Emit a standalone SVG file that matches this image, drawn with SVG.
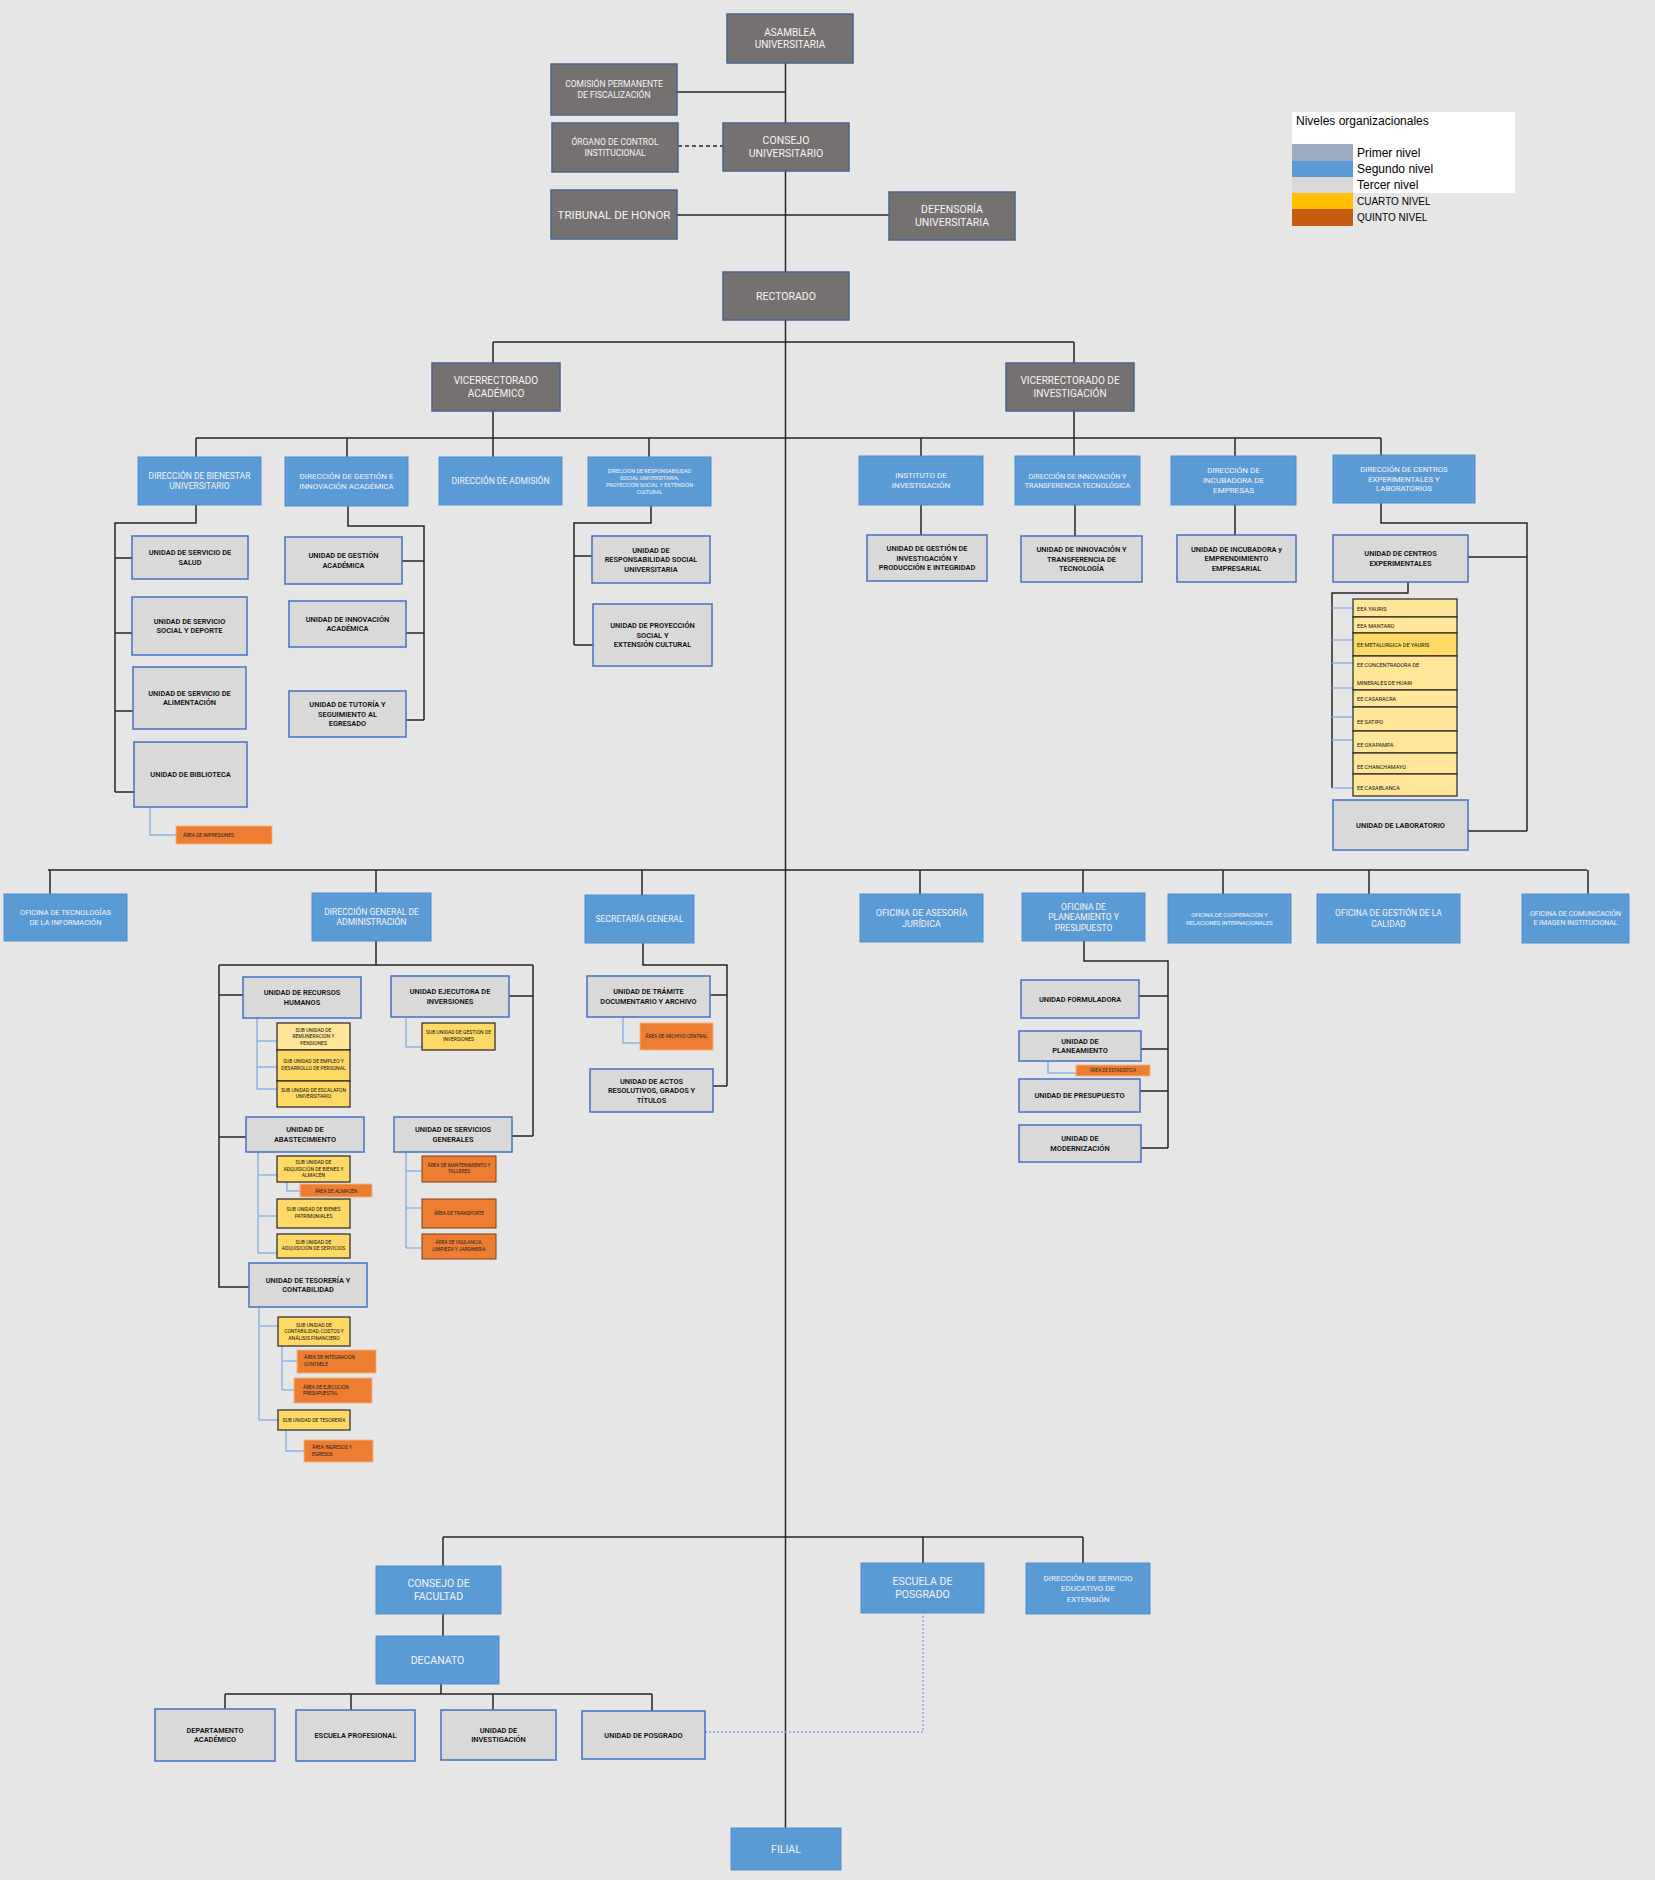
<svg xmlns="http://www.w3.org/2000/svg" width="1655" height="1880" viewBox="0 0 1655 1880">
<style>
text{font-family:"Liberation Sans Narrow","Roboto","Liberation Sans",sans-serif;text-anchor:middle}
.l1{fill:#767171;stroke:#4a6491;stroke-width:1.5}
.l2{fill:#5b9bd5;stroke:#4e8fcc;stroke-width:1}
.l3{fill:#d9d9d9;stroke:#4472c4;stroke-width:1.5}
.l4{fill:#ffd966;stroke:#262626;stroke-width:1.2}
.l4b{fill:#ffe699;stroke:#262626;stroke-width:1.2}
.l5{fill:#ed7d31;stroke:#f4b183;stroke-width:1}
.c{stroke:#262626;stroke-width:1.5;fill:none}
.cb{stroke:#8eb4e3;stroke-width:1.5;fill:none}
.dash{stroke:#262626;stroke-width:1.5;fill:none;stroke-dasharray:4 3}
.dot{stroke:#7fa7d8;stroke-width:1.5;fill:none;stroke-dasharray:2 2}
.tw{fill:#f4f4f4}
.t1{font-size:10.5px}
.t2{font-size:8.5px}
.t3{font-size:7.4px;font-weight:600;fill:#111}
.t4{font-size:5px;fill:#111}
.t5{font-size:4.8px;fill:#222}
.ts{font-size:5.5px;fill:#111;text-anchor:start}
.lg{font-family:"Liberation Sans",Arial,sans-serif;font-size:12px;text-anchor:start;fill:#000}
.lg2{font-family:"Liberation Sans Narrow","Liberation Sans",sans-serif;font-size:10px;text-anchor:start;fill:#000}
</style>
<rect x="0" y="0" width="1655" height="1880" fill="#e7e6e6"/>

<g id="connectors">
<path class="c" d="M785.5 63V1828"/>
<path class="c" d="M677 92H785.5"/>
<path class="dash" d="M678 146H723"/>
<path class="c" d="M677 215H889"/>
<path class="c" d="M493 342H1074M493 342V363M1074 342V363"/>
<path class="c" d="M493 411V457M1074 411V456"/>
<path class="c" d="M196 438H1381M196 438V457M347 438V457M649 438V457M921 438V456M1235 438V456M1381 438V455"/>
<path class="c" d="M196 505V523H115V792M115 558H132M115 633H132M115 711H133M115 792H134"/>
<path class="c" d="M348 506V526H424V720M402 561H424M406 633H424M406 720H424"/>
<path class="c" d="M651 506V523H574V645M574 556H592M574 645H593"/>
<path class="c" d="M921 505V535M1075 505V536M1235 505V535"/>
<path class="c" d="M1381 503V523H1527V831M1468 557H1527M1468 831H1527"/>
<path class="c" d="M1408 582V593H1332V788"/>
<path class="cb" d="M1332 608H1353M1332 640H1353M1332 663H1353M1332 688H1353M1332 717H1353M1332 740H1353M1332 788H1353"/>
<path class="cb" d="M150 807V835H176"/>
<path class="c" d="M48 870H1587M50 870V894M376 870V893M642 870V895M920 870V894M1083 870V893M1223 870V894M1369 870V894M1588 870V894"/>
<path class="c" d="M376 941V965M219 965H533M219 965V1287H249M219 995H243M219 1137H246M533 965V1136M509 996H533M512 1136H533"/>
<path class="cb" d="M257 1018V1089M257 1041H277M257 1067H277M257 1089H277"/>
<path class="cb" d="M406 1017V1047H422"/>
<path class="cb" d="M258 1152V1253M258 1175H277M258 1216H277M258 1253H277M287 1182V1191H300"/>
<path class="cb" d="M406 1152V1248M406 1171H422M406 1208H422M406 1248H422"/>
<path class="cb" d="M259 1307V1420M259 1326H278M259 1420H278M282 1346V1390M282 1361H297M282 1390H294M286 1430V1451H304"/>
<path class="c" d="M643 943V965H727V1086M710 995H727M713 1086H727"/>
<path class="cb" d="M623 1017V1043H640"/>
<path class="c" d="M1084 941V961H1168V1148M1139 996H1168M1141 1049H1168M1140 1091H1168M1141 1148H1168"/>
<path class="cb" d="M1048 1061V1073H1076"/>
<path class="c" d="M443 1537H1083M443 1537V1566M923 1537V1563M1083 1537V1563M443 1614V1636"/>
<path class="c" d="M441 1684V1694M225 1694H652M225 1694V1709M351 1694V1710M493 1694V1710M652 1694V1711"/>
<path class="dot" d="M705 1732H923V1613"/>
</g>

<g id="legend">
<rect x="1292" y="112" width="223" height="81" fill="#ffffff"/>
<rect x="1292" y="144" width="61" height="17" fill="#9cabc2"/>
<rect x="1292" y="161" width="61" height="16" fill="#5b9bd5"/>
<rect x="1292" y="177" width="61" height="16" fill="#d9d9d9"/>
<rect x="1292" y="193" width="61" height="16" fill="#ffc000"/>
<rect x="1292" y="209" width="61" height="17" fill="#c55a11"/>
<text class="lg" x="1296" y="125">Niveles organizacionales</text>
<text class="lg" x="1357" y="157">Primer nivel</text>
<text class="lg" x="1357" y="173">Segundo nivel</text>
<text class="lg" x="1357" y="189">Tercer nivel</text>
<text class="lg2" x="1357" y="205">CUARTO NIVEL</text>
<text class="lg2" x="1357" y="221">QUINTO NIVEL</text>
</g>

<g id="asamblea"><rect class="l1" x="727" y="14" width="126" height="49"/><text class="tw" style="font-size:10px" x="790"><tspan x="790" y="36">ASAMBLEA</tspan><tspan x="790" y="48">UNIVERSITARIA</tspan></text></g>
<g id="comision"><rect class="l1" x="551" y="64" width="126" height="51"/><text class="tw" style="font-size:8.5px"><tspan x="614" y="87.2">COMISIÓN PERMANENTE</tspan><tspan x="614" y="97.7">DE FISCALIZACIÓN</tspan></text></g>
<g id="organo"><rect class="l1" x="552" y="123" width="126" height="49"/><text class="tw" style="font-size:8.5px"><tspan x="615" y="145.2">ÓRGANO DE CONTROL</tspan><tspan x="615" y="155.7">INSTITUCIONAL</tspan></text></g>
<g id="consejo"><rect class="l1" x="723" y="123" width="126" height="48"/><text class="tw t1"><tspan x="786" y="144.2">CONSEJO</tspan><tspan x="786" y="157.2">UNIVERSITARIO</tspan></text></g>
<g id="tribunal"><rect class="l1" x="551" y="190" width="126" height="49"/><text class="tw" style="font-size:11.5px" x="614" y="218.5">TRIBUNAL DE HONOR</text></g>
<g id="defensoria"><rect class="l1" x="889" y="192" width="126" height="48"/><text class="tw t1"><tspan x="952" y="213.2">DEFENSORÍA</tspan><tspan x="952" y="226.2">UNIVERSITARIA</tspan></text></g>
<g id="rectorado"><rect class="l1" x="723" y="272" width="126" height="48"/><text class="tw t1" x="786" y="299.7">RECTORADO</text></g>
<g id="vr-academico"><rect class="l1" x="432" y="363" width="128" height="48"/><text class="tw" style="font-size:10px"><tspan x="496" y="384.2">VICERRECTORADO</tspan><tspan x="496" y="396.7">ACADÉMICO</tspan></text></g>
<g id="vr-investigacion"><rect class="l1" x="1006" y="363" width="128" height="48"/><text class="tw" style="font-size:10px"><tspan x="1070" y="384.2">VICERRECTORADO DE</tspan><tspan x="1070" y="396.7">INVESTIGACIÓN</tspan></text></g>

<g id="dir-bienestar"><rect class="l2" x="138" y="457" width="123" height="48"/><text class="tw t2"><tspan x="199.5" y="478.8">DIRECCIÓN DE BIENESTAR</tspan><tspan x="199.5" y="489.3">UNIVERSITARIO</tspan></text></g>
<g id="dir-gestion"><rect class="l2" x="285" y="457" width="123" height="49"/><text class="tw" style="font-size:8px"><tspan x="346.5" y="479.3">DIRECCIÓN DE GESTIÓN E</tspan><tspan x="346.5" y="489.3">INNOVACIÓN ACADÉMICA</tspan></text></g>
<g id="dir-admision"><rect class="l2" x="439" y="457" width="123" height="48"/><text class="tw t2" x="500.5" y="484">DIRECCIÓN DE ADMISIÓN</text></g>
<g id="dir-rsu"><rect class="l2" x="588" y="457" width="123" height="49"/><text class="tw" style="font-size:5.4px"><tspan x="649.5" y="473.1">DIRECCIÓN DE RESPONSABILIDAD</tspan><tspan x="649.5" y="479.9">SOCIAL UNIVERSITARIA,</tspan><tspan x="649.5" y="486.7">PROYECCIÓN SOCIAL Y EXTENSIÓN</tspan><tspan x="649.5" y="493.5">CULTURAL</tspan></text></g>
<g id="instituto"><rect class="l2" x="859" y="456" width="124" height="49"/><text class="tw" style="font-size:8px"><tspan x="921" y="478.3">INSTITUTO DE</tspan><tspan x="921" y="488.3">INVESTIGACIÓN</tspan></text></g>
<g id="dir-innovacion"><rect class="l2" x="1015" y="456" width="125" height="49"/><text class="tw" style="font-size:7.2px"><tspan x="1077.5" y="478.5">DIRECCIÓN DE INNOVACIÓN Y</tspan><tspan x="1077.5" y="487.5">TRANSFERENCIA TECNOLÓGICA</tspan></text></g>
<g id="dir-incubadora"><rect class="l2" x="1171" y="456" width="125" height="49"/><text class="tw" style="font-size:8px"><tspan x="1233.5" y="473.3">DIRECCIÓN DE</tspan><tspan x="1233.5" y="483.3">INCUBADORA DE</tspan><tspan x="1233.5" y="493.3">EMPRESAS</tspan></text></g>
<g id="dir-centros"><rect class="l2" x="1333" y="455" width="142" height="48"/><text class="tw" style="font-size:7.8px"><tspan x="1404" y="472.1">DIRECCIÓN DE CENTROS</tspan><tspan x="1404" y="481.6">EXPERIMENTALES Y</tspan><tspan x="1404" y="491.1">LABORATORIOS</tspan></text></g>

<g id="u-salud"><rect class="l3" x="132" y="536" width="116" height="43"/><text class="t3"><tspan x="190" y="555.4">UNIDAD DE SERVICIO DE</tspan><tspan x="190" y="564.9">SALUD</tspan></text></g>
<g id="u-social"><rect class="l3" x="132" y="597" width="115" height="58"/><text class="t3"><tspan x="189.5" y="623.9">UNIDAD DE SERVICIO</tspan><tspan x="189.5" y="633.4">SOCIAL Y DEPORTE</tspan></text></g>
<g id="u-alimentacion"><rect class="l3" x="133" y="667" width="113" height="62"/><text class="t3"><tspan x="189.5" y="695.9">UNIDAD DE SERVICIO DE</tspan><tspan x="189.5" y="705.4">ALIMENTACIÓN</tspan></text></g>
<g id="u-biblioteca"><rect class="l3" x="134" y="742" width="113" height="65"/><text class="t3" x="190.5" y="777.1">UNIDAD DE BIBLIOTECA</text></g>
<g id="a-impresiones"><rect class="l5" x="176" y="826" width="96" height="18"/><text class="t5" style="text-anchor:start" x="183" y="837">ÁREA DE IMPRESIONES</text></g>
<g id="u-gestion-acad"><rect class="l3" x="285" y="537" width="117" height="47"/><text class="t3"><tspan x="343.5" y="558.4">UNIDAD DE GESTIÓN</tspan><tspan x="343.5" y="567.9">ACADÉMICA</tspan></text></g>
<g id="u-innovacion-acad"><rect class="l3" x="289" y="601" width="117" height="46"/><text class="t3"><tspan x="347.5" y="621.9">UNIDAD DE INNOVACIÓN</tspan><tspan x="347.5" y="631.4">ACADÉMICA</tspan></text></g>
<g id="u-tutoria"><rect class="l3" x="289" y="691" width="117" height="46"/><text class="t3"><tspan x="347.5" y="707.1">UNIDAD DE TUTORÍA Y</tspan><tspan x="347.5" y="716.6">SEGUIMIENTO AL</tspan><tspan x="347.5" y="726.1">EGRESADO</tspan></text></g>
<g id="u-rsu"><rect class="l3" x="592" y="536" width="118" height="47"/><text class="t3"><tspan x="651" y="552.6">UNIDAD DE</tspan><tspan x="651" y="562.1">RESPONSABILIDAD SOCIAL</tspan><tspan x="651" y="571.6">UNIVERSITARIA</tspan></text></g>
<g id="u-proyeccion"><rect class="l3" x="593" y="604" width="119" height="62"/><text class="t3"><tspan x="652.5" y="628.1">UNIDAD DE PROYECCIÓN</tspan><tspan x="652.5" y="637.6">SOCIAL Y</tspan><tspan x="652.5" y="647.1">EXTENSIÓN CULTURAL</tspan></text></g>
<g id="u-gestion-inv"><rect class="l3" x="867" y="535" width="120" height="46"/><text class="t3"><tspan x="927" y="551.1">UNIDAD DE GESTIÓN DE</tspan><tspan x="927" y="560.6">INVESTIGACIÓN Y</tspan><tspan x="927" y="570.1">PRODUCCIÓN E INTEGRIDAD</tspan></text></g>
<g id="u-innov-transf"><rect class="l3" x="1021" y="536" width="121" height="46"/><text class="t3"><tspan x="1081.5" y="552.1">UNIDAD DE INNOVACIÓN Y</tspan><tspan x="1081.5" y="561.6">TRANSFERENCIA DE</tspan><tspan x="1081.5" y="571.1">TECNOLOGÍA</tspan></text></g>
<g id="u-incubadora"><rect class="l3" x="1177" y="535" width="119" height="47"/><text class="t3"><tspan x="1236.5" y="551.6">UNIDAD DE INCUBADORA y</tspan><tspan x="1236.5" y="561.1">EMPRENDIMIENTO</tspan><tspan x="1236.5" y="570.6">EMPRESARIAL</tspan></text></g>
<g id="u-centros-exp"><rect class="l3" x="1333" y="535" width="135" height="47"/><text class="t3"><tspan x="1400.5" y="556.4">UNIDAD DE CENTROS</tspan><tspan x="1400.5" y="565.9">EXPERIMENTALES</tspan></text></g>
<g id="estaciones">
<rect class="l4b" x="1353" y="599" width="104" height="18"/><text class="ts" x="1357" y="610.5">EEA YAURIS</text>
<rect class="l4b" x="1353" y="617" width="104" height="16"/><text class="ts" x="1357" y="627.5">EEA MANTARO</text>
<rect class="l4" x="1353" y="633" width="104" height="23"/><text class="ts" x="1357" y="646.5">EE METALURGICA DE YAURIS</text>
<rect class="l4b" x="1353" y="656" width="104" height="34"/><text class="ts"><tspan x="1357" y="667">EE CONCENTRADORA DE</tspan><tspan x="1357" y="685">MINERALES DE HUARI</tspan></text>
<rect class="l4b" x="1353" y="690" width="104" height="17"/><text class="ts" x="1357" y="701">EE CASARACRA</text>
<rect class="l4b" x="1353" y="707" width="104" height="24"/><text class="ts" x="1357" y="724">EE SATIPO</text>
<rect class="l4b" x="1353" y="731" width="104" height="22"/><text class="ts" x="1357" y="747">EE OXAPAMPA</text>
<rect class="l4b" x="1353" y="753" width="104" height="21"/><text class="ts" x="1357" y="769">EE CHANCHAMAYO</text>
<rect class="l4b" x="1353" y="774" width="104" height="22"/><text class="ts" x="1357" y="790">EE CASABLANCA</text>
</g>
<g id="u-laboratorio"><rect class="l3" x="1333" y="800" width="135" height="50"/><text class="t3" x="1400.5" y="827.6">UNIDAD DE LABORATORIO</text></g>

<g id="of-tecnologias"><rect class="l2" x="4" y="894" width="123" height="47"/><text class="tw" style="font-size:7.5px"><tspan x="65.5" y="915.4">OFICINA DE TECNOLOGÍAS</tspan><tspan x="65.5" y="924.9">DE LA INFORMACIÓN</tspan></text></g>
<g id="dga"><rect class="l2" x="312" y="893" width="119" height="48"/><text class="tw" style="font-size:8.5px"><tspan x="371.5" y="914.8">DIRECCIÓN GENERAL DE</tspan><tspan x="371.5" y="925.3">ADMINISTRACIÓN</tspan></text></g>
<g id="secretaria"><rect class="l2" x="585" y="895" width="109" height="48"/><text class="tw" style="font-size:8.5px" x="639.5" y="922">SECRETARÍA GENERAL</text></g>
<g id="of-asesoria"><rect class="l2" x="860" y="894" width="123" height="48"/><text class="tw" style="font-size:9px"><tspan x="921.5" y="915.6">OFICINA DE ASESORÍA</tspan><tspan x="921.5" y="926.6">JURÍDICA</tspan></text></g>
<g id="of-planeamiento"><rect class="l2" x="1022" y="893" width="123" height="48"/><text class="tw" style="font-size:8.5px"><tspan x="1083.5" y="909.5">OFICINA DE</tspan><tspan x="1083.5" y="920">PLANEAMIENTO Y</tspan><tspan x="1083.5" y="930.5">PRESUPUESTO</tspan></text></g>
<g id="of-cooperacion"><rect class="l2" x="1168" y="894" width="123" height="49"/><text class="tw" style="font-size:5.8px"><tspan x="1229.5" y="916.5">OFICINA DE COOPERACIÓN Y</tspan><tspan x="1229.5" y="924.5">RELACIONES INTERNACIONALES</tspan></text></g>
<g id="of-calidad"><rect class="l2" x="1317" y="894" width="143" height="49"/><text class="tw" style="font-size:8.5px"><tspan x="1388.5" y="916.3">OFICINA DE GESTIÓN DE LA</tspan><tspan x="1388.5" y="926.8">CALIDAD</tspan></text></g>
<g id="of-comunicacion"><rect class="l2" x="1522" y="894" width="107" height="49"/><text class="tw" style="font-size:7px"><tspan x="1575.5" y="916.4">OFICINA DE COMUNICACIÓN</tspan><tspan x="1575.5" y="925.4">E IMAGEN INSTITUCIONAL</tspan></text></g>

<g id="u-rrhh"><rect class="l3" x="243" y="977" width="118" height="41"/><text class="t3"><tspan x="302" y="995.4">UNIDAD DE RECURSOS</tspan><tspan x="302" y="1004.9">HUMANOS</tspan></text></g>
<g id="su-remuneracion"><rect class="l4b" x="277" y="1023" width="73" height="27"/><text class="t4"><tspan x="313.5" y="1031.8">SUB UNIDAD DE</tspan><tspan x="313.5" y="1038.3">REMUNERACIÓN Y</tspan><tspan x="313.5" y="1044.8">PENSIONES</tspan></text></g>
<g id="su-empleo"><rect class="l4" x="277" y="1050" width="73" height="31"/><text class="t4"><tspan x="313.5" y="1063">SUB UNIDAD DE EMPLEO Y</tspan><tspan x="313.5" y="1069.5">DESARROLLO DE PERSONAL</tspan></text></g>
<g id="su-escalafon"><rect class="l4" x="277" y="1081" width="73" height="26"/><text class="t4"><tspan x="313.5" y="1091.5">SUB UNIDAD DE ESCALAFÓN</tspan><tspan x="313.5" y="1098">UNIVERSITARIO</tspan></text></g>
<g id="u-uei"><rect class="l3" x="391" y="976" width="118" height="41"/><text class="t3"><tspan x="450" y="994.4">UNIDAD EJECUTORA DE</tspan><tspan x="450" y="1003.9">INVERSIONES</tspan></text></g>
<g id="su-inversiones"><rect class="l4" x="422" y="1023" width="73" height="27"/><text class="t4"><tspan x="458.5" y="1034">SUB UNIDAD DE GESTIÓN DE</tspan><tspan x="458.5" y="1040.5">INVERSIONES</tspan></text></g>
<g id="u-abastecimiento"><rect class="l3" x="246" y="1117" width="118" height="35"/><text class="t3"><tspan x="305" y="1132.4">UNIDAD DE</tspan><tspan x="305" y="1141.9">ABASTECIMIENTO</tspan></text></g>
<g id="su-bienes"><rect class="l4" x="277" y="1156" width="73" height="26"/><text class="t4"><tspan x="313.5" y="1164.3">SUB UNIDAD DE</tspan><tspan x="313.5" y="1170.8">ADQUISICIÓN DE BIENES Y</tspan><tspan x="313.5" y="1177.3">ALMACÉN</tspan></text></g>
<g id="a-almacen"><rect class="l5" x="300" y="1184" width="72" height="13"/><text class="t5" x="336" y="1192.5">ÁREA DE ALMACÉN</text></g>
<g id="su-patrimoniales"><rect class="l4" x="277" y="1199" width="73" height="29"/><text class="t4"><tspan x="313.5" y="1211">SUB UNIDAD DE BIENES</tspan><tspan x="313.5" y="1217.5">PATRIMONIALES</tspan></text></g>
<g id="su-servicios"><rect class="l4" x="277" y="1234" width="73" height="24"/><text class="t4"><tspan x="313.5" y="1243.5">SUB UNIDAD DE</tspan><tspan x="313.5" y="1250">ADQUISICIÓN DE SERVICIOS</tspan></text></g>
<g id="u-servicios-generales"><rect class="l3" x="394" y="1117" width="118" height="35"/><text class="t3"><tspan x="453" y="1132.4">UNIDAD DE SERVICIOS</tspan><tspan x="453" y="1141.9">GENERALES</tspan></text></g>
<g id="a-mantenimiento"><rect class="l5" x="422" y="1156" width="74" height="26" style="stroke:#7f3f10"/><text class="t5"><tspan x="459" y="1166.5">ÁREA DE MANTENIMIENTO Y</tspan><tspan x="459" y="1173">TALLERES</tspan></text></g>
<g id="a-transporte"><rect class="l5" x="422" y="1199" width="74" height="29" style="stroke:#7f3f10"/><text class="t5" x="459" y="1215.3">ÁREA DE TRANSPORTE</text></g>
<g id="a-vigilancia"><rect class="l5" x="422" y="1234" width="74" height="25" style="stroke:#7f3f10"/><text class="t5"><tspan x="459" y="1244">ÁREA DE VIGILANCIA,</tspan><tspan x="459" y="1250.5">LIMPIEZA Y JARDINERÍA</tspan></text></g>
<g id="u-tesoreria"><rect class="l3" x="249" y="1263" width="118" height="44"/><text class="t3"><tspan x="308" y="1282.9">UNIDAD DE TESORERÍA Y</tspan><tspan x="308" y="1292.4">CONTABILIDAD</tspan></text></g>
<g id="su-contabilidad"><rect class="l4" x="278" y="1317" width="72" height="29"/><text class="t4"><tspan x="314" y="1326.8">SUB UNIDAD DE</tspan><tspan x="314" y="1333.3">CONTABILIDAD, COSTOS Y</tspan><tspan x="314" y="1339.8">ANÁLISIS FINANCIERO</tspan></text></g>
<g id="a-integracion"><rect class="l5" x="297" y="1350" width="79" height="23"/><text class="t5" style="text-anchor:start"><tspan x="304" y="1359">ÁREA DE INTEGRACIÓN</tspan><tspan x="304" y="1365.5">CONTABLE</tspan></text></g>
<g id="a-ejecucion"><rect class="l5" x="294" y="1378" width="78" height="25"/><text class="t5" style="text-anchor:start"><tspan x="303" y="1388.5">ÁREA DE EJECUCIÓN</tspan><tspan x="303" y="1395">PRESUPUESTAL</tspan></text></g>
<g id="su-tesoreria"><rect class="l4" x="278" y="1410" width="72" height="20"/><text class="t4" x="314" y="1421.8">SUB UNIDAD DE TESORERÍA</text></g>
<g id="a-ingresos"><rect class="l5" x="304" y="1440" width="69" height="22"/><text class="t5" style="text-anchor:start"><tspan x="312" y="1449">ÁREA INGRESOS Y</tspan><tspan x="312" y="1455.5">EGRESOS</tspan></text></g>

<g id="u-tramite"><rect class="l3" x="587" y="976" width="123" height="41"/><text class="t3"><tspan x="648.5" y="994.4">UNIDAD DE TRÁMITE</tspan><tspan x="648.5" y="1003.9">DOCUMENTARIO Y ARCHIVO</tspan></text></g>
<g id="a-archivo"><rect class="l5" x="640" y="1023" width="73" height="27"/><text class="t5" x="676.5" y="1038">ÁREA DE ARCHIVO CENTRAL</text></g>
<g id="u-actos"><rect class="l3" x="590" y="1069" width="123" height="43"/><text class="t3"><tspan x="651.5" y="1083.6">UNIDAD DE ACTOS</tspan><tspan x="651.5" y="1093.1">RESOLUTIVOS, GRADOS Y</tspan><tspan x="651.5" y="1102.6">TÍTULOS</tspan></text></g>

<g id="u-formuladora"><rect class="l3" x="1021" y="980" width="118" height="38"/><text class="t3" x="1080" y="1001.6">UNIDAD FORMULADORA</text></g>
<g id="u-planeamiento"><rect class="l3" x="1019" y="1031" width="122" height="30"/><text class="t3"><tspan x="1080" y="1043.9">UNIDAD DE</tspan><tspan x="1080" y="1053.4">PLANEAMIENTO</tspan></text></g>
<g id="a-estadistica"><rect class="l5" x="1076" y="1065" width="74" height="11"/><text class="t5" style="font-size:4.5px" x="1113" y="1072.3">ÁREA DE ESTADÍSTICA</text></g>
<g id="u-presupuesto"><rect class="l3" x="1019" y="1079" width="121" height="33"/><text class="t3" x="1079.5" y="1098.1">UNIDAD DE PRESUPUESTO</text></g>
<g id="u-modernizacion"><rect class="l3" x="1019" y="1125" width="122" height="37"/><text class="t3"><tspan x="1080" y="1141.4">UNIDAD DE</tspan><tspan x="1080" y="1150.9">MODERNIZACIÓN</tspan></text></g>

<g id="consejo-facultad"><rect class="l2" x="376" y="1566" width="125" height="48"/><text class="tw t1"><tspan x="438.5" y="1587.2">CONSEJO DE</tspan><tspan x="438.5" y="1600.2">FACULTAD</tspan></text></g>
<g id="escuela-posgrado"><rect class="l2" x="861" y="1563" width="123" height="50"/><text class="tw t1"><tspan x="922.5" y="1585.2">ESCUELA DE</tspan><tspan x="922.5" y="1598.2">POSGRADO</tspan></text></g>
<g id="dir-servicio-educativo"><rect class="l2" x="1026" y="1563" width="124" height="51"/><text class="tw" style="font-size:8px"><tspan x="1088" y="1580.8">DIRECCIÓN DE SERVICIO</tspan><tspan x="1088" y="1591.3">EDUCATIVO DE</tspan><tspan x="1088" y="1601.8">EXTENSIÓN</tspan></text></g>
<g id="decanato"><rect class="l2" x="376" y="1636" width="123" height="48"/><text class="tw t1" x="437.5" y="1663.7">DECANATO</text></g>
<g id="departamento"><rect class="l3" x="155" y="1709" width="120" height="52"/><text class="t3"><tspan x="215" y="1732.9">DEPARTAMENTO</tspan><tspan x="215" y="1742.4">ACADÉMICO</tspan></text></g>
<g id="escuela-profesional"><rect class="l3" x="296" y="1710" width="119" height="51"/><text class="t3" x="355.5" y="1738.1">ESCUELA PROFESIONAL</text></g>
<g id="u-investigacion"><rect class="l3" x="441" y="1710" width="115" height="50"/><text class="t3"><tspan x="498.5" y="1732.9">UNIDAD DE</tspan><tspan x="498.5" y="1742.4">INVESTIGACIÓN</tspan></text></g>
<g id="u-posgrado"><rect class="l3" x="582" y="1711" width="123" height="48"/><text class="t3" x="643.5" y="1737.6">UNIDAD DE POSGRADO</text></g>
<g id="filial"><rect class="l2" x="731" y="1828" width="110" height="42"/><text class="tw t1" x="786" y="1852.7">FILIAL</text></g>
</svg>
